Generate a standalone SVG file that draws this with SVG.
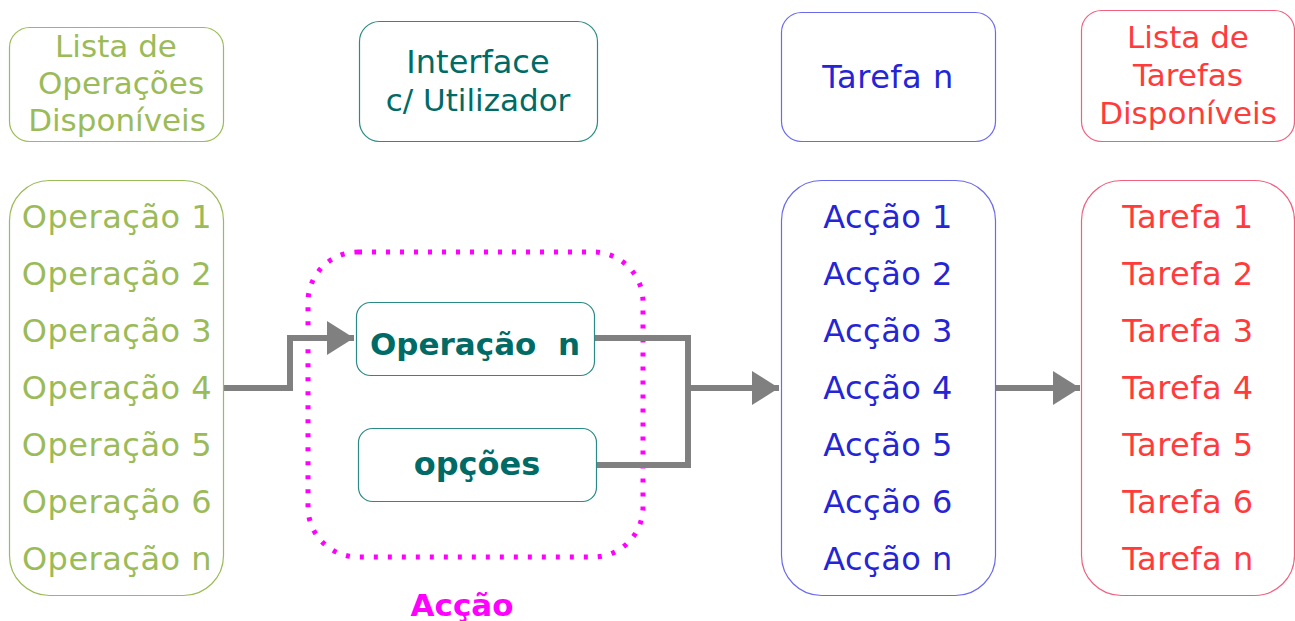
<svg xmlns="http://www.w3.org/2000/svg" width="1295" height="621" viewBox="0 0 1295 621">
<style>
text{font-family:"DejaVu Sans","Liberation Sans",sans-serif;text-anchor:middle;font-size:31px}
.li{font-size:32px;letter-spacing:0.5px}
.g{fill:#9BBB59}.t{fill:#006B66}.b{fill:#2525D5}.r{fill:#FF3B3B}.m{fill:#FF00FF}
.bx{fill:#fff;stroke-width:1.2}
.gs{stroke:#9BBB59}.ts{stroke:#2A8A85}.bs{stroke:#6A6AEE}.rs{stroke:#F06080}
.bold{font-weight:bold}
.conn{fill:none;stroke:#808080;stroke-width:6}
</style>
<defs>
<marker id="ah" markerUnits="userSpaceOnUse" markerWidth="28" markerHeight="34" refX="27" refY="17" orient="auto">
<path d="M0,0 L27,17 L0,34 Z" fill="#808080"/>
</marker>
</defs>
<rect width="1295" height="621" fill="#fff"/>
<g id="dotted-accao">
<rect x="308" y="252" width="335" height="305" rx="50" fill="none" stroke="#FF00FF" stroke-width="5" stroke-dasharray="4,10"/>
</g>
<g id="connectors">
<polyline class="conn" points="223,388 290,388 290,338 354,338" marker-end="url(#ah)"/>
<polyline class="conn" points="594,338 688,338 688,465 596,465"/>
<line class="conn" x1="688" y1="388" x2="779" y2="388" marker-end="url(#ah)"/>
<line class="conn" x1="995" y1="388" x2="1080" y2="388" marker-end="url(#ah)"/>
</g>
<g id="lista-operacoes-header">
<rect class="bx gs" x="9.5" y="27.5" width="214" height="114" rx="20"/>
<text class="g" x="116" y="57">Lista de</text>
<text class="g" x="121" y="94">Operações</text>
<text class="g" x="117" y="131">Disponíveis</text>
</g>
<g id="interface">
<rect class="bx ts" x="359.5" y="21.5" width="238" height="120" rx="20"/>
<text class="t" x="478" y="73" style="font-size:32px">Interface</text>
<text class="t" x="478" y="111">c/ Utilizador</text>
</g>
<g id="tarefa-n">
<rect class="bx bs" x="781.5" y="12.5" width="214" height="129" rx="20"/>
<text class="b li" x="888" y="88">Tarefa n</text>
</g>
<g id="lista-tarefas-header">
<rect class="bx rs" x="1081.5" y="10.5" width="213" height="131" rx="20"/>
<text class="r" x="1188" y="48">Lista de</text>
<text class="r" x="1188" y="86">Tarefas</text>
<text class="r" x="1188" y="124">Disponíveis</text>
</g>
<g id="lista-operacoes">
<rect class="bx gs" x="9.5" y="180.5" width="214" height="415" rx="40"/>
<text class="g li" x="117" y="228">Operação 1</text>
<text class="g li" x="117" y="285">Operação 2</text>
<text class="g li" x="117" y="342">Operação 3</text>
<text class="g li" x="117" y="399">Operação 4</text>
<text class="g li" x="117" y="456">Operação 5</text>
<text class="g li" x="117" y="513">Operação 6</text>
<text class="g li" x="117" y="570">Operação n</text>
</g>
<g id="operacao-n">
<rect class="bx ts" x="356.5" y="302.5" width="238" height="73" rx="14"/>
<text class="t bold" x="475" y="355">Operação&#160; n</text>
</g>
<g id="opcoes">
<rect class="bx ts" x="358.5" y="428.5" width="238" height="73" rx="14"/>
<text class="t bold" x="477" y="475" style="font-size:32px">opções</text>
</g>
<g id="accoes">
<rect class="bx bs" x="781.5" y="180.5" width="214" height="415" rx="40"/>
<text class="b li" x="888" y="228">Acção 1</text>
<text class="b li" x="888" y="285">Acção 2</text>
<text class="b li" x="888" y="342">Acção 3</text>
<text class="b li" x="888" y="399">Acção 4</text>
<text class="b li" x="888" y="456">Acção 5</text>
<text class="b li" x="888" y="513">Acção 6</text>
<text class="b li" x="888" y="570">Acção n</text>
</g>
<g id="tarefas">
<rect class="bx rs" x="1081.5" y="180.5" width="213" height="415" rx="40"/>
<text class="r li" x="1188" y="228">Tarefa 1</text>
<text class="r li" x="1188" y="285">Tarefa 2</text>
<text class="r li" x="1188" y="342">Tarefa 3</text>
<text class="r li" x="1188" y="399">Tarefa 4</text>
<text class="r li" x="1188" y="456">Tarefa 5</text>
<text class="r li" x="1188" y="513">Tarefa 6</text>
<text class="r li" x="1188" y="570">Tarefa n</text>
</g>
<text class="m bold" x="462" y="616">Acção</text>
</svg>
